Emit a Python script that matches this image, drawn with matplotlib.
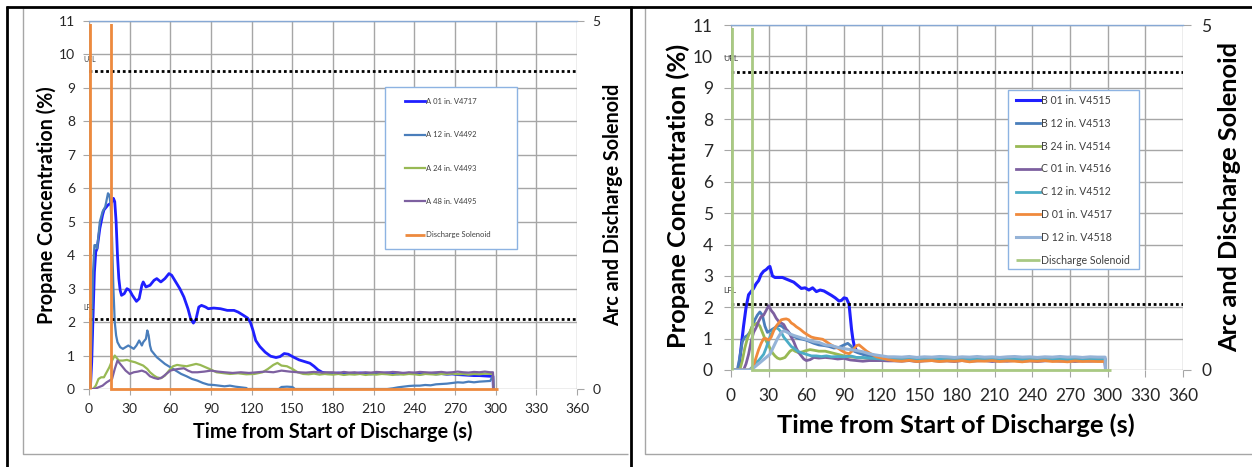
import matplotlib
matplotlib.use("Agg")
import matplotlib.pyplot as plt
from matplotlib.lines import Line2D
from matplotlib.patches import Rectangle
from matplotlib.transforms import Bbox, TransformedBbox

plt.rcParams['font.family'] = ['Lato', 'DejaVu Sans']

W, H = 1252, 467
def fx(px): return px / W
def fy(py): return 1 - py / H

# ---------------- data: left chart (A series) ----------------
left_labels = ["A 01 in. V4717", "A 12 in. V4492", "A 24 in. V4493", "A 48 in. V4495"]
left_colors = ["#1f1fff", "#4a7ebb", "#98b954", "#7d60a0"]
left_tail_t = list(range(180, 297, 4))

a01_t = [0,1,2,3,4,5,6,7,8,9,10,11,12,14,16,17,18,19,20,21,22,23,24,26,28,30,32,35,37,39,40,42,45,48,50,53,56,59,61,64,67,70,73,75,77,79,81,83,86,88,92,97,102,107,110,114,117,119,121,123,126,130,134,138,141,144,147,151,155,159,163,166,169,172,176]
a01_v = [0,0,0.8,2.2,3.5,4.1,4.2,4.5,4.8,5.0,5.2,5.35,5.4,5.5,5.55,5.6,5.7,5.6,5.0,4.0,3.3,2.95,2.8,2.85,3.0,2.95,2.8,2.62,2.7,3.1,3.2,3.05,3.1,3.25,3.3,3.2,3.3,3.45,3.4,3.2,3.0,2.75,2.4,2.1,1.97,2.1,2.45,2.5,2.45,2.4,2.42,2.4,2.35,2.35,2.3,2.2,2.12,2.0,1.75,1.45,1.27,1.1,0.98,0.94,0.97,1.06,1.04,0.95,0.87,0.82,0.77,0.68,0.57,0.5,0.47]
a01_tail = [0.46,0.48,0.45,0.47,0.46,0.48,0.47,0.45,0.47,0.46,0.48,0.46,0.45,0.47,0.46,0.47,0.45,0.46,0.47,0.45,0.46,0.44,0.45,0.43,0.42,0.41,0.40,0.40,0.39,0.38]

a12_t = [0,1,2,3,4,5,6,7,8,10,12,14,15,16,17,18,19,20,21,23,25,27,29,31,33,35,37,39,40,42,43,44,45,46,48,50,53,56,60,64,68,72,76,80,84,88,92,96,100,104,108,112,116,117,140,142,146,150,152,153,176]
a12_v = [0,0.3,1.8,3.5,4.3,4.3,4.2,4.6,5.0,5.3,5.45,5.85,5.8,5.5,4.5,3.0,2.0,1.6,1.4,1.25,1.2,1.25,1.3,1.25,1.2,1.3,1.45,1.3,1.4,1.5,1.75,1.6,1.3,1.15,1.05,0.95,0.85,0.75,0.65,0.55,0.45,0.38,0.3,0.25,0.18,0.13,0.12,0.1,0.08,0.1,0.07,0.05,0.03,0,0,0.06,0.07,0.06,0,0,0]
a12_tail = [0,0,0,0,0,0,0,0,0,0,0,0.02,0.05,0.07,0.09,0.1,0.1,0.12,0.11,0.14,0.15,0.16,0.18,0.2,0.19,0.22,0.2,0.22,0.23,0.24]

a24_t = [0,3,5,7,9,11,13,15,17,19,20,22,25,28,31,34,37,40,43,45,48,50,53,56,59,62,65,68,72,76,79,82,86,90,94,98,104,110,116,122,128,132,136,139,142,146,150,154,158,162,166,170,174,176]
a24_v = [0,0,0.1,0.3,0.35,0.35,0.5,0.65,0.85,1.0,0.95,0.85,0.85,0.87,0.83,0.8,0.75,0.7,0.6,0.5,0.4,0.35,0.32,0.4,0.55,0.68,0.72,0.7,0.68,0.72,0.75,0.72,0.65,0.58,0.5,0.48,0.45,0.47,0.44,0.45,0.5,0.6,0.72,0.78,0.7,0.68,0.6,0.5,0.45,0.44,0.46,0.43,0.45,0.44]
a24_tail = [0.43,0.45,0.42,0.44,0.43,0.45,0.42,0.44,0.43,0.45,0.44,0.42,0.44,0.43,0.45,0.44,0.42,0.45,0.44,0.43,0.45,0.44,0.46,0.44,0.45,0.43,0.45,0.44,0.46,0.45]

a48_t = [0,4,7,10,13,15,17,19,21,23,25,27,30,33,36,39,42,45,48,51,54,57,60,63,66,70,73,76,80,85,90,95,100,106,112,118,124,130,136,142,148,154,160,166,172,176]
a48_v = [0,0,0.05,0.1,0.2,0.25,0.3,0.6,0.85,0.75,0.65,0.55,0.45,0.5,0.52,0.55,0.5,0.38,0.33,0.3,0.35,0.45,0.55,0.58,0.6,0.62,0.55,0.5,0.5,0.52,0.55,0.52,0.5,0.48,0.5,0.48,0.5,0.52,0.5,0.55,0.52,0.5,0.49,0.51,0.49,0.5]
a48_tail = [0.5,0.48,0.51,0.49,0.5,0.48,0.5,0.49,0.51,0.5,0.49,0.51,0.5,0.48,0.5,0.49,0.51,0.5,0.49,0.5,0.51,0.49,0.5,0.52,0.5,0.49,0.51,0.5,0.52,0.5]

left_end_t = [298, 298.3]
left_end_v = [[0.38, 0], [0.4, 0], [0.45, 0], [0.5, 0]]

left_sol_t = [0.5, 0.5, 16, 16, 302]
left_sol_v = [0, 5, 5, 0, 0]

# ---------------- data: right chart (B, C, D series) ----------------
right_labels = ["B 01 in. V4515", "B 12 in. V4513", "B 24 in. V4514", "C 01 in. V4516",
                "C 12 in. V4512", "D 01 in. V4517", "D 12 in. V4518"]
right_colors = ["#1f1fff", "#4a7ebb", "#98b954", "#7d60a0", "#4bacc6", "#f08a3c", "#95b3d7"]
right_tail_t = list(range(130, 293, 6))

b01_t = [0,6,8,10,12,14,16,18,20,22,24,26,28,30,31,33,35,38,41,44,47,50,53,56,59,62,65,68,71,74,77,80,83,86,88,90,92,94,95,96,97,98,100,103,106,110,115,120,125]
b01_v = [0,0,0.7,1.4,2.0,2.4,2.5,2.6,2.75,2.85,3.05,3.15,3.2,3.28,3.3,3.0,2.95,2.95,2.95,2.9,2.85,2.8,2.7,2.6,2.62,2.55,2.62,2.5,2.55,2.52,2.45,2.38,2.3,2.2,2.22,2.3,2.28,2.1,1.7,1.3,1.0,0.8,0.6,0.55,0.5,0.45,0.4,0.38,0.36]
b01_tail = [0.36,0.35,0.37,0.34,0.36,0.35,0.33,0.36,0.34,0.35,0.33,0.35,0.34,0.36,0.33,0.35,0.34,0.33,0.35,0.34,0.32,0.34,0.35,0.33,0.34,0.33,0.35,0.34]

b12_t = [0,5,7,9,11,13,15,17,19,21,23,25,27,29,31,33,35,37,39,41,43,45,48,51,54,57,60,63,66,70,74,78,82,86,90,93,96,98,101,105,110,115,120,125]
b12_v = [0,0,0.4,0.9,1.05,1.1,1.2,1.4,1.6,1.75,1.85,1.75,1.4,1.2,1.25,1.3,1.35,1.4,1.42,1.38,1.3,1.25,1.1,1.05,1.0,0.98,0.95,0.9,0.85,0.8,0.78,0.75,0.7,0.72,0.8,0.85,0.75,0.6,0.55,0.5,0.45,0.4,0.38,0.36]
b12_tail = [0.35,0.34,0.36,0.33,0.35,0.34,0.36,0.33,0.35,0.34,0.35,0.33,0.36,0.34,0.35,0.33,0.34,0.36,0.34,0.35,0.33,0.35,0.34,0.36,0.34,0.35,0.33,0.35]

b24_t = [0,7,9,11,13,15,17,19,21,23,25,27,29,31,33,35,37,39,41,43,45,47,49,51,54,57,60,63,66,70,75,80,85,90,95,100,110,120,125]
b24_v = [0,0,0.3,0.7,1.0,1.2,1.4,1.45,1.5,1.4,1.2,1.0,0.85,0.7,0.55,0.45,0.38,0.35,0.37,0.4,0.5,0.6,0.65,0.6,0.55,0.58,0.62,0.65,0.63,0.6,0.6,0.55,0.5,0.45,0.42,0.4,0.37,0.35,0.34]
b24_tail = [0.33,0.32,0.34,0.31,0.33,0.32,0.34,0.32,0.31,0.33,0.32,0.34,0.31,0.33,0.32,0.31,0.33,0.32,0.34,0.32,0.31,0.33,0.32,0.33,0.31,0.32,0.33,0.32]

c01_t = [0,10,12,14,16,18,20,22,24,26,28,30,32,34,36,38,40,42,44,46,48,50,52,54,56,58,60,63,66,70,75,80,85,90,95,100,105,110,120,125]
c01_v = [0,0,0.2,0.5,0.9,1.2,1.35,1.55,1.7,1.75,1.9,2.05,1.9,1.8,1.65,1.55,1.5,1.45,1.3,1.2,1.05,0.9,0.7,0.55,0.45,0.35,0.3,0.33,0.4,0.38,0.4,0.38,0.35,0.37,0.32,0.3,0.28,0.3,0.3,0.29]
c01_tail = [0.29,0.28,0.3,0.27,0.29,0.3,0.28,0.29,0.27,0.3,0.28,0.29,0.3,0.27,0.29,0.28,0.3,0.28,0.29,0.27,0.29,0.3,0.28,0.29,0.27,0.29,0.28,0.29]

c12_t = [0,14,16,18,20,22,24,26,28,30,32,34,36,38,40,42,44,46,48,50,53,56,60,64,68,72,76,80,85,90,95,100,105,110,120,125]
c12_v = [0,0,0.05,0.15,0.25,0.3,0.4,0.5,0.7,0.95,1.15,1.3,1.35,1.3,1.2,1.05,0.95,0.85,0.75,0.7,0.6,0.55,0.5,0.45,0.45,0.43,0.45,0.42,0.43,0.42,0.45,0.4,0.4,0.38,0.35,0.34]
c12_tail = [0.34,0.33,0.35,0.32,0.34,0.33,0.35,0.34,0.32,0.34,0.33,0.35,0.33,0.34,0.32,0.34,0.35,0.33,0.34,0.32,0.34,0.33,0.35,0.33,0.34,0.32,0.34,0.33]

d01_t = [0,16,18,20,22,24,26,28,30,32,34,36,38,40,42,44,46,48,50,52,55,58,61,64,67,70,73,76,79,82,85,88,91,94,97,100,102,105,108,112,116,120,125]
d01_v = [0,0,0.15,0.4,0.65,0.85,1.0,1.0,0.95,1.05,1.25,1.4,1.5,1.6,1.62,1.63,1.6,1.5,1.45,1.38,1.3,1.2,1.12,1.05,1.02,1.0,0.98,0.9,0.82,0.75,0.7,0.62,0.55,0.52,0.62,0.78,0.8,0.7,0.6,0.5,0.42,0.38,0.33]
d01_tail = [0.3,0.28,0.31,0.27,0.29,0.3,0.27,0.29,0.28,0.3,0.26,0.29,0.28,0.3,0.27,0.29,0.28,0.26,0.29,0.28,0.3,0.27,0.28,0.26,0.29,0.27,0.28,0.27]

d12_t = [0,16,19,22,25,28,31,34,37,40,42,44,47,50,54,58,62,66,70,75,80,85,90,95,100,105,110,115,120,125]
d12_v = [0,0,0.1,0.2,0.3,0.4,0.5,0.75,1.0,1.2,1.25,1.22,1.15,1.1,1.05,1.0,0.95,0.9,0.88,0.8,0.78,0.72,0.68,0.65,0.62,0.58,0.52,0.48,0.45,0.42]
d12_tail = [0.42,0.41,0.43,0.4,0.42,0.41,0.43,0.42,0.4,0.42,0.41,0.43,0.41,0.42,0.4,0.42,0.43,0.41,0.42,0.4,0.42,0.41,0.43,0.41,0.42,0.4,0.42,0.41]

right_end_t = [298, 298.3]
right_end_v = [[0.34, 0], [0.35, 0], [0.32, 0], [0.29, 0], [0.33, 0], [0.27, 0], [0.41, 0]]

right_sol_t = [0.5, 0.5, 16.5, 16.5, 303]
right_sol_v = [0, 5, 5, 0, 0]

x_ticks = list(range(0, 361, 30))
y_ticks = list(range(0, 12))
sec_ticks = [0, 5]
UFL, LFL = 9.5, 2.1

# ---------------- figure ----------------
fig = plt.figure(figsize=(W / 100, H / 100), dpi=100)
fig.patch.set_facecolor("white")

GRID = "#a6a6a6"
TOPBLUE = "#86a8d4"


def build(rect, heads, tails, tail_t, end_t, end_v, labels, colors, widths,
          sol_t, sol_v, sol_color, fs_tick, fs_lab, cfg):
    ax = fig.add_axes(rect)
    ax.set_xlim(0, 360)
    ax.set_ylim(0, 11)
    ax.set_xticks(x_ticks)
    ax.set_yticks(y_ticks)
    ax.grid(True, color=GRID, lw=1.0)
    ax.set_axisbelow(True)
    for s in ["left", "right", "bottom", "top"]:
        ax.spines[s].set_visible(False)
    ax.tick_params(axis="both", length=cfg["ticklen"], color=GRID, labelsize=fs_tick,
                   labelcolor="#262626")
    ax.tick_params(axis="y", pad=cfg["ypad"])
    ax.tick_params(axis="x", pad=cfg["xpad"])
    handles = []
    for (t, v), tail, ev, lab, c, w in zip(heads, tails, end_v, labels, colors, widths):
        tt = t + tail_t + end_t
        vv = v + tail + ev
        assert len(tt) == len(vv)
        ln, = ax.plot(tt, vv, color=c, lw=w, label=lab, solid_joinstyle="round")
        handles.append(ln)
    ax.plot([0, 360], [UFL, UFL], color="black", lw=2.0, ls=(0, (1, 1)))
    ax.plot([0, 360], [LFL, LFL], color="black", lw=2.0, ls=(0, (1, 1)))
    ax.text(cfg["flx"], cfg["ufly"], "UFL", fontsize=cfg["flfs"], color="#404040",
            ha="left", va="center", clip_on=False)
    ax.text(cfg["flx"], cfg["lfly"], "LFL", fontsize=cfg["flfs"], color="#404040",
            ha="left", va="center", clip_on=False)

    ax2 = ax.twinx()
    ax2.set_ylim(0, 5)
    ax2.set_yticks(sec_ticks)
    for s in ["left", "right", "bottom"]:
        ax2.spines[s].set_visible(False)
    ax2.spines["top"].set_color(TOPBLUE)
    ax2.spines["top"].set_linewidth(1.0)
    ax2.spines["top"].set_zorder(3)
    ax2.tick_params(axis="y", length=cfg["ticklen"] + 1, color=GRID, labelsize=fs_tick,
                    labelcolor="#262626", pad=cfg["rpad"])
    sl, = ax2.plot(sol_t, sol_v, color=sol_color, lw=2.0, label="Discharge Solenoid",
                   solid_capstyle="butt", solid_joinstyle="miter")
    hpx = rect[3] * H
    sl.set_clip_box(TransformedBbox(Bbox([[-0.02, -0.02], [1.02, 1 - 3.0 / hpx]]),
                                    ax2.transAxes))
    handles.append(sl)

    ax.set_xlabel("Time from Start of Discharge (s)", fontsize=fs_lab, fontweight="bold")
    ax.xaxis.set_label_coords(fx(cfg["xl"][0]), fy(cfg["xl"][1]), transform=fig.transFigure)
    ax.xaxis.label.set_va("center")
    ax.set_ylabel("Propane Concentration (%)", fontsize=fs_lab, fontweight="bold")
    ax.yaxis.set_label_coords(fx(cfg["yl"][0]), fy(cfg["yl"][1]), transform=fig.transFigure)
    ax.yaxis.label.set_va("center")
    ax2.set_ylabel("Arc and Discharge Solenoid", fontsize=fs_lab, fontweight="bold")
    ax2.yaxis.set_label_coords(fx(cfg["y2l"][0]), fy(cfg["y2l"][1]), transform=fig.transFigure)
    ax2.yaxis.label.set_va("center")

    # legend: frame box + entries
    bx0, by0, bx1, by1 = cfg["box"]
    ax2.add_patch(Rectangle((fx(bx0), fy(by1)), fx(bx1) - fx(bx0), fy(by0) - fy(by1),
                            transform=fig.transFigure, facecolor="white",
                            edgecolor="#8db3e2", lw=1.0, zorder=4, clip_on=False))
    leg = ax2.legend(handles=handles, loc="upper left",
                     bbox_to_anchor=(fx(cfg["leg"][0]), fy(cfg["leg"][1])),
                     bbox_transform=fig.transFigure, frameon=False,
                     fontsize=cfg["legfs"], labelspacing=cfg["lsp"],
                     handlelength=cfg["hl"], handletextpad=0.1, borderpad=0,
                     borderaxespad=0)
    leg.set_zorder(5)
    for txt in leg.get_texts():
        txt.set_color("#404040")
    return ax, ax2


left_heads = [(a01_t, a01_v), (a12_t, a12_v), (a24_t, a24_v), (a48_t, a48_v)]
left_tails = [a01_tail, a12_tail, a24_tail, a48_tail]
build([fx(89), fy(389), fx(577) - fx(89), fy(21) - fy(389)],
      left_heads, left_tails, left_tail_t, left_end_t, left_end_v,
      left_labels, left_colors, [2.0, 1.6, 1.6, 1.6],
      left_sol_t, left_sol_v, "#ed8a3e", 10, 14.2,
      dict(ticklen=4, ypad=6, xpad=6, rpad=6, xl=(333, 432), yl=(47, 205), y2l=(613, 205),
           box=(385, 87, 517, 249), leg=(405, 98), legfs=5.5, lsp=3.45, hl=2.6,
           flx=-4.5, ufly=9.85, lfly=2.45, flfs=5))

right_heads = [(b01_t, b01_v), (b12_t, b12_v), (b24_t, b24_v), (c01_t, c01_v),
               (c12_t, c12_v), (d01_t, d01_v), (d12_t, d12_v)]
right_tails = [b01_tail, b12_tail, b24_tail, c01_tail, c12_tail, d01_tail, d12_tail]
build([fx(731), fy(370), fx(1183) - fx(731), fy(25) - fy(370)],
      right_heads, right_tails, right_tail_t, right_end_t, right_end_v,
      right_labels, right_colors, [2.2, 2.0, 2.0, 2.0, 2.0, 2.0, 2.2],
      right_sol_t, right_sol_v, "#a9c983", 12.5, 18.3,
      dict(ticklen=5, ypad=8, xpad=8, rpad=7, xl=(956, 425), yl=(678, 196), y2l=(1230, 197),
           box=(1008, 90, 1139, 269), leg=(1016, 95), legfs=7.6, lsp=1.12, hl=2.3,
           flx=-6.4, ufly=9.92, lfly=2.55, flfs=6))

# table borders
def fline(xs, ys, color, lw):
    fig.add_artist(Line2D([fx(x) for x in xs], [fy(y) for y in ys], color=color, lw=lw,
                          transform=fig.transFigure, solid_capstyle="butt"))

fline([22.5, 22.5, 628], [8, 454, 454], "#a6a6a6", 1.0)
fline([645, 645, 1252], [8, 454, 454], "#a6a6a6", 1.0)
fline([6, 1252], [7, 7], "black", 2.0)
fline([7, 7], [6, 467], "black", 2.0)
fline([631, 631], [6, 467], "black", 2.0)

fig.savefig("out.png", dpi=100)
